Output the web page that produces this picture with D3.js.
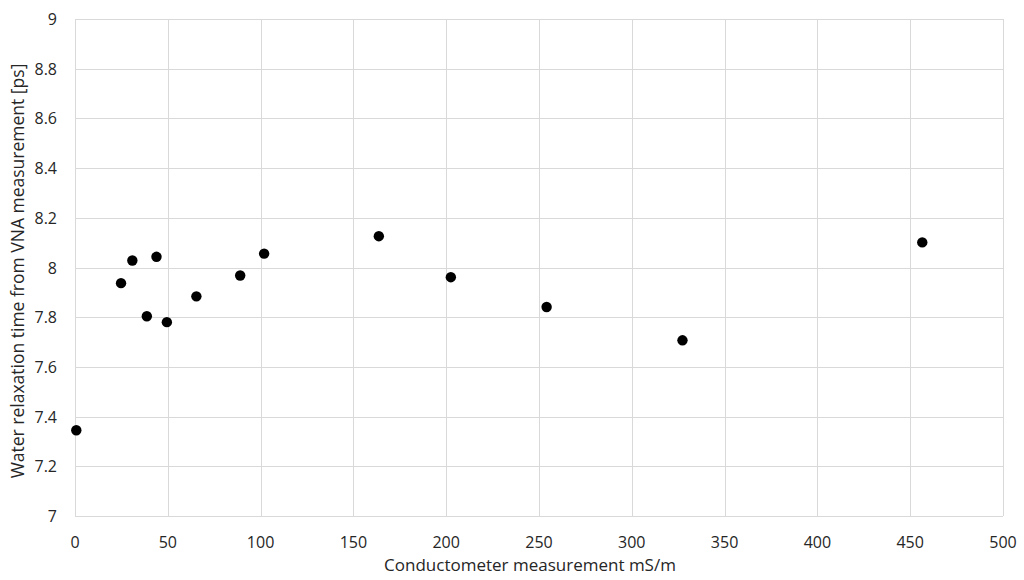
<!DOCTYPE html>
<html>
<head>
<meta charset="utf-8">
<script src="https://cdnjs.cloudflare.com/ajax/libs/d3/7.8.5/d3.min.js"></script>
<style>
  body { margin: 0; background: #fff; }
  svg text { font-family: "Open Sans", sans-serif; fill: #262626; }
</style>
</head>
<body>
<svg id="chart" width="1024" height="580"></svg>
<script>
// conductivity (mS/m) and relaxation time (ps)
var conductivity = [0.7, 24.8, 30.9, 38.7, 43.9, 49.5, 65.4, 89.0, 101.9, 163.7, 202.5, 254.1, 327.3, 456.5];
var relaxation   = [7.345, 7.937, 8.028, 7.804, 8.043, 7.780, 7.884, 7.968, 8.056, 8.126, 7.961, 7.841, 7.707, 8.101];

var xTicks = [0, 50, 100, 150, 200, 250, 300, 350, 400, 450, 500];
var yTicks = [7, 7.2, 7.4, 7.6, 7.8, 8, 8.2, 8.4, 8.6, 8.8, 9];

var xTitle = "Conductometer measurement mS/m";
var yTitle = "Water relaxation time from VNA measurement [ps]";

var plotLeft = 75, plotRight = 1003, plotTop = 19, plotBottom = 516;

var svg = d3.select("#chart");

var x = d3.scaleLinear().domain([0, 500]).range([plotLeft, plotRight]);
var y = d3.scaleLinear().domain([7, 9]).range([plotBottom, plotTop]);

// grid
svg.append("g").selectAll("line")
  .data(xTicks).enter().append("line")
  .attr("x1", d => Math.round(x(d)) + 0.5).attr("x2", d => Math.round(x(d)) + 0.5)
  .attr("y1", plotTop).attr("y2", plotBottom)
  .attr("stroke", "#d9d9d9").attr("stroke-width", 1);

svg.append("g").selectAll("line")
  .data(yTicks).enter().append("line")
  .attr("x1", plotLeft).attr("x2", plotRight)
  .attr("y1", d => Math.round(y(d)) + 0.5).attr("y2", d => Math.round(y(d)) + 0.5)
  .attr("stroke", "#d9d9d9").attr("stroke-width", 1);

// tick labels
svg.append("g").selectAll("text")
  .data(xTicks).enter().append("text")
  .attr("x", d => x(d)).attr("y", 548)
  .attr("text-anchor", "middle")
  .attr("font-size", 16)
  .text(d => d);

svg.append("g").selectAll("text")
  .data(yTicks).enter().append("text")
  .attr("x", 57).attr("y", d => y(d) + 6)
  .attr("text-anchor", "end")
  .attr("font-size", 16)
  .text(d => d3.format("~g")(d));

// axis titles
svg.append("text")
  .attr("x", 530).attr("y", 571)
  .attr("text-anchor", "middle")
  .attr("font-size", 17)
  .text(xTitle);

svg.append("text")
  .attr("transform", "translate(24,271) rotate(-90)")
  .attr("text-anchor", "middle")
  .attr("font-size", 17.5)
  .text(yTitle);

// points
var pts = conductivity.map((c, i) => ({ c: c, t: relaxation[i] }));
svg.append("g").selectAll("circle")
  .data(pts).enter().append("circle")
  .attr("cx", d => x(d.c)).attr("cy", d => y(d.t))
  .attr("r", 5.2)
  .attr("fill", "#000");
</script>
</body>
</html>
